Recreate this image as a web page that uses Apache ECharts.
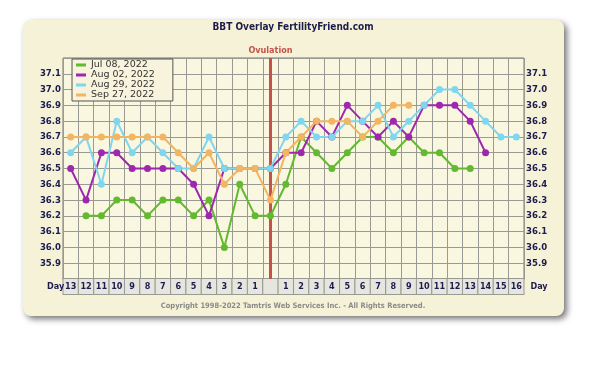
<!DOCTYPE html>
<html>
<head>
<meta charset="utf-8">
<script src="https://cdn.jsdelivr.net/npm/echarts@6/dist/echarts.min.js"></script>
<style>
html,body{margin:0;padding:0;background:#ffffff;}
#chart{width:600px;height:371px;}
</style>
</head>
<body>
<div id="chart"></div>
<script>
// ---- data ----
const dayLabels = ['13','12','11','10','9','8','7','6','5','4','3','2','1','','1','2','3','4','5','6','7','8','9','10','11','12','13','14','15','16'];
const ovulationIndex = 13;
const seriesNames = ['Jul 08, 2022','Aug 02, 2022','Aug 29, 2022','Sep 27, 2022'];
const jul08 = [null,36.2,36.2,36.3,36.3,36.2,36.3,36.3,36.2,36.3,36.0,36.4,36.2,36.2,36.4,36.7,36.6,36.5,36.6,36.7,36.7,36.6,36.7,36.6,36.6,36.5,36.5,null,null,null];
const aug02 = [36.5,36.3,36.6,36.6,36.5,36.5,36.5,36.5,36.4,36.2,36.5,36.5,36.5,36.5,36.6,36.6,36.8,36.7,36.9,36.8,36.7,36.8,36.7,36.9,36.9,36.9,36.8,36.6,null,null];
const aug29 = [36.6,36.7,36.4,36.8,36.6,36.7,36.6,36.5,36.5,36.7,36.5,36.5,36.5,36.5,36.7,36.8,36.7,36.7,36.8,36.8,36.9,36.7,36.8,36.9,37.0,37.0,36.9,36.8,36.7,36.7];
const sep27 = [36.7,36.7,36.7,36.7,36.7,36.7,36.7,36.6,36.5,36.6,36.4,36.5,36.5,36.3,36.6,36.7,36.8,36.8,36.8,36.7,36.8,36.9,36.9,null,null,null,null,null,null,null];
const tempMin = 35.8, tempMax = 37.2, tempStep = 0.1;

// ---- styles ----
const colors = ['#63b92f','#9e27b0','#7fd6ef','#f2b562'];
const navy = '#1c1c4e';
const fontF = '"DejaVu Sans Condensed", "DejaVu Sans", sans-serif';

const chart = echarts.init(document.getElementById('chart'), null, {renderer:'canvas'});
const yLabelFmt = v => (v < tempMin + 0.05 || v > tempMax - 0.05) ? '' : v.toFixed(1);

function mkSeries(name, data, color, extra) {
  return Object.assign({
    name, type:'line', data,
    symbol:'circle', symbolSize:7,
    lineStyle:{width:2, color},
    itemStyle:{color},
    emphasis:{disabled:true},
    animation:false, z:3
  }, extra || {});
}

const option = {
  animation:false,
  graphic:[{
    type:'rect', shape:{x:23, y:20, width:541, height:296, r:8},
    style:{fill:'#f6f2d8', shadowColor:'rgba(0,0,0,0.55)', shadowBlur:6, shadowOffsetX:3, shadowOffsetY:3},
    z:-10, silent:true
  }],
  title:[
    {text:'BBT Overlay FertilityFriend.com', left:293, top:22, textAlign:'center', padding:0,
     textStyle:{fontFamily:fontF, fontWeight:'bold', fontSize:10, color:navy}},
    {text:'Copyright 1998-2022 Tamtris Web Services Inc. - All Rights Reserved.', left:293, top:302, textAlign:'center', padding:0,
     textStyle:{fontFamily:fontF, fontWeight:'bold', fontSize:7.5, color:'#8a8a88'}},
    {text:'Day', left:47, top:282, padding:0,
     textStyle:{fontFamily:fontF, fontWeight:'bold', fontSize:9, color:navy}}
  ],
  legend:{
    orient:'vertical', left:72, top:59,
    data:seriesNames,
    icon:'rect', itemWidth:10, itemHeight:3, itemGap:0,
    padding:[1,18,1,4],
    backgroundColor:'#f7f3dc', borderColor:'#555', borderWidth:1,
    textStyle:{fontFamily:'"DejaVu Sans", sans-serif', fontSize:9.5, lineHeight:10, color:'#333'},
    selectedMode:false
  },
  grid:{left:63, right:76, top:58, bottom:92, show:true, backgroundColor:'#faf7e0', borderColor:'#777', borderWidth:1},
  xAxis:{
    type:'category', data:dayLabels, boundaryGap:true,
    axisLine:{show:true, lineStyle:{color:'#777'}},
    axisTick:{show:false},
    splitLine:{show:true, interval:0, lineStyle:{color:'#9a9a94', width:1}},
    axisLabel:{
      interval:0, margin:0,
      formatter: v => '{c|' + v + '}',
      rich:{c:{width:14.4, height:15, lineHeight:15, align:'center', verticalAlign:'middle',
               backgroundColor:'#e6e6df', borderColor:'#9a9a94', borderWidth:1,
               fontFamily:fontF, fontWeight:'bold', fontSize:9, color:navy}}
    },
    name:'Day', nameLocation:'end', nameGap:2,
    nameTextStyle:{fontFamily:fontF, fontWeight:'bold', fontSize:9, color:navy, verticalAlign:'top', padding:[3,0,0,0]}
  },
  yAxis:[
    {type:'value', min:tempMin, max:tempMax, interval:tempStep, position:'left',
     axisLine:{show:false}, axisTick:{show:false},
     splitLine:{show:true, lineStyle:{color:'#9a9a94', width:1}},
     axisLabel:{formatter:yLabelFmt, margin:2, fontFamily:fontF, fontWeight:'bold', fontSize:9.5, color:navy}},
    {type:'value', min:tempMin, max:tempMax, interval:tempStep, position:'right',
     axisLine:{show:false}, axisTick:{show:false}, splitLine:{show:false},
     axisLabel:{formatter:yLabelFmt, margin:2, fontFamily:fontF, fontWeight:'bold', fontSize:9.5, color:navy}}
  ],
  series:[
    mkSeries(seriesNames[0], jul08, colors[0], {
      markLine:{
        silent:true, symbol:'none', animation:false,
        lineStyle:{color:'#c4524a', width:3, type:'solid'},
        label:{show:true, position:'end', formatter:'Ovulation', distance:3,
               fontFamily:fontF, fontWeight:'bold', fontSize:9, color:'#c4524a'},
        data:[{xAxis:ovulationIndex}],
        z:2
      }
    }),
    mkSeries(seriesNames[1], aug02, colors[1]),
    mkSeries(seriesNames[2], aug29, colors[2]),
    mkSeries(seriesNames[3], sep27, colors[3])
  ]
};
chart.setOption(option);
</script>
</body>
</html>
